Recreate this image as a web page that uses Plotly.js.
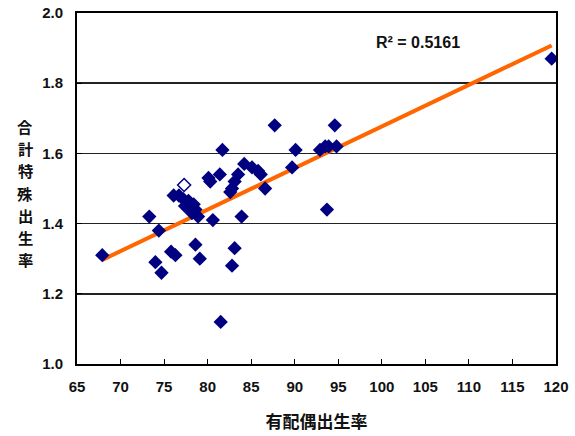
<!DOCTYPE html>
<html>
<head>
<meta charset="utf-8">
<script src="https://cdn.plot.ly/plotly-3.0.1.min.js"></script>
<style>
  html, body { margin: 0; padding: 0; background: #fff; }
  #chart { width: 575px; height: 436px; }
</style>
</head>
<body>
<div id="chart"></div>
<script>
// Prefecture values: married-women fertility (x) vs total fertility rate (y)
const marriedRate = [
  67.9, 73.3, 74.4, 74.0, 74.7, 75.8, 76.3, 76.1, 76.7, 77.2,
  77.8, 77.4, 78.4, 78.0, 78.6, 78.9, 78.2, 78.6, 79.1, 80.6,
  80.1, 80.3, 81.4, 81.7, 81.5, 82.8, 83.1, 82.6, 82.8, 83.1,
  83.5, 83.9, 84.2, 85.1, 85.8, 86.1, 86.6, 87.7, 89.7, 90.1,
  92.9, 93.5, 93.9, 94.8, 94.6, 93.7, 119.5
];
const totalFertility = [
  1.31, 1.42, 1.38, 1.29, 1.26, 1.32, 1.31, 1.48, 1.48, 1.47,
  1.465, 1.45, 1.455, 1.44, 1.44, 1.42, 1.43, 1.34, 1.30, 1.41,
  1.53, 1.52, 1.54, 1.61, 1.12, 1.28, 1.33, 1.49, 1.50, 1.52,
  1.54, 1.42, 1.57, 1.56, 1.55, 1.54, 1.50, 1.68, 1.56, 1.61,
  1.61, 1.62, 1.62, 1.62, 1.68, 1.44, 1.87
];
// Highlighted entry drawn as an open marker
const highlightX = [77.3];
const highlightY = [1.51];

const xTicks = [65, 70, 75, 80, 85, 90, 95, 100, 105, 110, 115, 120];
const yTicks = [1.0, 1.2, 1.4, 1.6, 1.8, 2.0];
const r2Label = 'R² = 0.5161';
const xTitle = '有配偶出生率';
const yTitleChars = ['合', '計', '特', '殊', '出', '生', '率'];

// Least-squares trend line across the filled series
function linearFit(xs, ys) {
  const n = xs.length;
  let sx = 0, sy = 0, sxx = 0, sxy = 0;
  for (let i = 0; i < n; i++) {
    sx += xs[i]; sy += ys[i]; sxx += xs[i] * xs[i]; sxy += xs[i] * ys[i];
  }
  const slope = (n * sxy - sx * sy) / (n * sxx - sx * sx);
  return { slope: slope, intercept: (sy - slope * sx) / n };
}
const fit = linearFit(marriedRate, totalFertility);
const xMin = Math.min(...marriedRate), xMax = Math.max(...marriedRate);
const trendX = [xMin, xMax];
const trendY = trendX.map(v => fit.intercept + fit.slope * v);

const navy = '#000080';
const font = 'Liberation Sans, Arial, sans-serif';
const cjk = 'Noto Sans CJK JP, sans-serif';

const traces = [
  {
    x: trendX, y: trendY, mode: 'lines', type: 'scatter',
    line: { color: '#FF6600', width: 4 }, hoverinfo: 'skip'
  },
  {
    x: marriedRate, y: totalFertility, mode: 'markers', type: 'scatter',
    marker: { symbol: 'diamond', size: 11, color: navy }
  },
  {
    x: highlightX, y: highlightY, mode: 'markers', type: 'scatter',
    marker: { symbol: 'diamond-open', size: 10, color: navy, line: { width: 1.5, color: navy } }
  }
];

// Vertical, stacked y-axis title: one annotation per character
const plotTop = 13, plotBottom = 364;
const charTop = 126, charStep = 22.2;
const yTitleAnnotations = yTitleChars.map((ch, i) => ({
  text: ch, xref: 'paper', yref: 'paper',
  x: -0.108, y: (plotBottom - (charTop + i * charStep)) / (plotBottom - plotTop),
  xanchor: 'center', yanchor: 'middle', showarrow: false,
  font: { family: cjk, size: 15.3, color: '#111', weight: 'bold' }
}));

const layout = {
  width: 575, height: 436,
  margin: { l: 77, r: 19, t: plotTop, b: 436 - plotBottom },
  paper_bgcolor: '#fff', plot_bgcolor: '#fff',
  showlegend: false,
  xaxis: {
    range: [65, 120], tickvals: xTicks, ticktext: xTicks.map(String),
    ticks: 'inside', ticklen: 5, tickwidth: 1, tickcolor: '#000',
    showline: true, mirror: true, linecolor: '#000', linewidth: 2,
    showgrid: false, zeroline: false,
    tickfont: { family: font, size: 15, color: '#111', weight: 'bold' },
    ticklabelstandoff: 8,
    title: { text: xTitle, font: { family: cjk, size: 17, color: '#111', weight: 'bold' }, standoff: 22 }
  },
  yaxis: {
    range: [1.0, 2.0], tickvals: yTicks, ticktext: yTicks.map(v => v.toFixed(1)),
    ticks: 'inside', ticklen: 5, tickwidth: 1, tickcolor: '#000',
    showline: true, mirror: true, linecolor: '#000', linewidth: 2,
    showgrid: true, gridcolor: '#222', gridwidth: 1.5, zeroline: false,
    tickfont: { family: font, size: 15, color: '#111', weight: 'bold' },
    ticklabelstandoff: 9
  },
  annotations: yTitleAnnotations.concat([
    {
      text: r2Label, xref: 'x', yref: 'paper', x: 104.2, y: 0.915,
      xanchor: 'center', yanchor: 'middle', showarrow: false,
      font: { family: font, size: 16, color: '#111', weight: 'bold' }
    }
  ])
};

Plotly.newPlot('chart', traces, layout, { staticPlot: true, displayModeBar: false });
</script>
</body>
</html>
